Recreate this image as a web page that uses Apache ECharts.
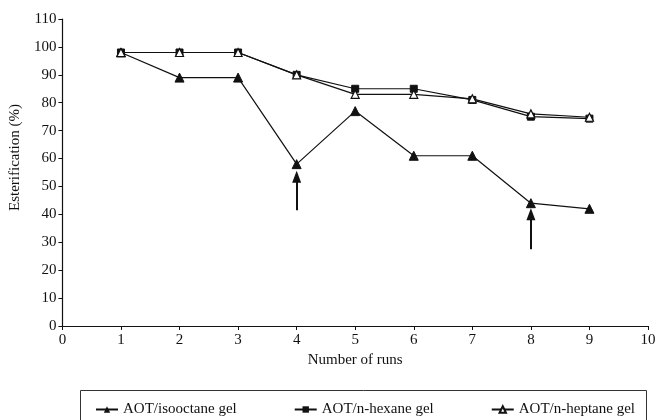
<!DOCTYPE html>
<html><head><meta charset="utf-8">
<script src="https://cdn.jsdelivr.net/npm/echarts@6/dist/echarts.min.js"></script>
<style>html,body{margin:0;padding:0;background:#fff}#c{width:659px;height:420px}</style>
</head><body><div id="c"></div>
<script>
var runs = [1, 2, 3, 4, 5, 6, 7, 8, 9];
var isooctane = [98, 89, 89, 58, 77, 61, 61, 44, 42];
var hexane = [98, 98, 98, 90, 85, 85, 81, 75, 74.3];
var heptane = [98, 98, 98, 90, 83, 83, 81.4, 76, 74.8];
var seriesNames = ['AOT/isooctane gel', 'AOT/n-hexane gel', 'AOT/n-heptane gel'];
var arrowX = [4, 8];
var arrowFrom = [41.5, 27.5];
var arrowTo = [53.5, 40];

function pairs(ys) { return runs.map(function (x, i) { return [x, ys[i]]; }); }
var font = 'Liberation Serif';
var chart = echarts.init(document.getElementById('c'));
chart.setOption({
  animation: false,
  backgroundColor: '#fff',
  grid: { left: 61, right: 11, top: 19, bottom: 94 },
  xAxis: {
    type: 'value', min: 0, max: 10, interval: 1,
    name: 'Number of runs', nameLocation: 'middle', nameGap: 27,
    nameTextStyle: { fontFamily: font, fontSize: 15, color: '#111' },
    axisLine: { lineStyle: { color: '#111', width: 1.2 } },
    axisTick: { show: true, length: 4, lineStyle: { color: '#111' } },
    axisLabel: { fontFamily: font, fontSize: 15, color: '#111', margin: 7 },
    splitLine: { show: false }
  },
  yAxis: {
    type: 'value', min: 0, max: 110, interval: 10,
    name: 'Esterification (%)', nameLocation: 'middle', nameGap: 35,
    nameTextStyle: { fontFamily: font, fontSize: 15, color: '#111', padding: [0, 0, 0, 30] },
    axisLine: { show: true, lineStyle: { color: '#111', width: 1.2 } },
    axisTick: { show: true, length: 4, lineStyle: { color: '#111' } },
    axisLabel: { fontFamily: font, fontSize: 15, color: '#111', margin: 6 },
    splitLine: { show: false }
  },
  legend: {
    data: seriesNames,
    left: 90, top: 397,
    itemGap: 57, itemWidth: 22, itemHeight: 8,
    textStyle: { fontFamily: font, fontSize: 15, color: '#111' }
  },
  graphic: [{
    type: 'rect', left: 78, top: 388,
    shape: { width: 566, height: 45 },
    style: { fill: 'none', stroke: '#333', lineWidth: 1 }
  }],
  series: [
    {
      name: seriesNames[0], type: 'line', data: pairs(isooctane),
      symbol: 'triangle', symbolSize: 9,
      lineStyle: { color: '#111', width: 1.2 },
      itemStyle: { color: '#111', borderColor: '#111' },
      markLine: {
        silent: true, symbol: ['none', 'triangle'], symbolSize: [9, 12],
        label: { show: false },
        lineStyle: { color: '#111', width: 2, type: 'solid' },
        data: arrowX.map(function (x, i) {
          return [{ coord: [x, arrowFrom[i]] }, { coord: [x, arrowTo[i]] }];
        })
      },
      z: 3
    },
    {
      name: seriesNames[1], type: 'line', data: pairs(hexane),
      symbol: 'rect', symbolSize: 7,
      lineStyle: { color: '#111', width: 1.2 },
      itemStyle: { color: '#111', borderColor: '#111' },
      z: 2
    },
    {
      name: seriesNames[2], type: 'line', data: pairs(heptane),
      symbol: 'triangle', symbolSize: 8,
      lineStyle: { color: '#111', width: 1.2 },
      itemStyle: { color: '#fff', borderColor: '#111', borderWidth: 1.2 },
      z: 4
    }
  ]
});
</script></body></html>
